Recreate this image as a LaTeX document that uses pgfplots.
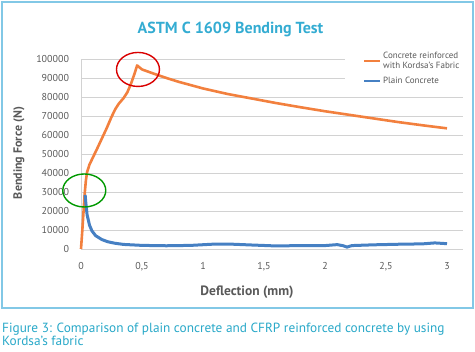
\documentclass[border=0pt]{standalone}
\usepackage{pgfplots}
\pgfplotsset{compat=1.18}
\usepackage{fontspec}
\setmainfont{PT Sans}
\definecolor{ttl}{RGB}{52,172,210}
\definecolor{cap}{RGB}{40,168,200}
\definecolor{frm}{RGB}{130,200,230}
\definecolor{txt}{RGB}{89,89,89}
\definecolor{grd}{RGB}{210,210,210}
\definecolor{orng}{RGB}{242,128,62}
\definecolor{blu}{RGB}{70,128,195}
\begin{document}
\begin{tikzpicture}[x=1pt,y=1pt]
\path (0,0) rectangle (475,-352);
\draw[frm, line width=1.5pt] (2,-2) rectangle (473,-308);
\node[font=\bfseries\fontsize{16}{19}\selectfont, text=ttl] at (230.5,-29) {ASTM C 1609 Bending Test};
\begin{axis}[at={(81pt,-249pt)}, anchor=south west, scale only axis,
  width=382pt, height=190pt, xmin=0, xmax=3.131, ymin=0, ymax=100000,
  clip=false, scaled y ticks=false,
  axis x line*=bottom, axis y line*=left,
  axis line style={grd, line width=0.8pt, -},
  ymajorgrids, grid style={grd, line width=0.8pt},
  major tick length=0pt,
  xtick={0,0.5,1,1.5,2,2.5,3},
  xticklabels={0,{0,5},1,{1,5},2,{2,5},3},
  ytick={0,10000,20000,30000,40000,50000,60000,70000,80000,90000,100000},
  yticklabels={0,10000,20000,30000,40000,50000,60000,70000,80000,90000,100000},
  tick label style={font=\fontsize{10}{12}\selectfont, text=txt},
  yticklabel style={xshift=-8.5pt},
  xticklabel style={yshift=-9.5pt},
  legend style={at={(0.733,1.071)}, anchor=north west, draw=none, fill=white,
    inner xsep=2pt, inner ysep=4pt, row sep=3pt,
    font=\fontsize{9}{10.5}\selectfont, text=txt, cells={align=left, anchor=west}},
  legend image code/.code={\draw[#1, line width=2pt] (0pt,0pt) -- (16pt,0pt);},
]
\fill[white] (rel axis cs:0.691,0.88) rectangle (rel axis cs:1.0,1.02);
\addplot[orng, line width=2.6pt, line join=round] coordinates {
(0,0) (0.01,9000) (0.02,19000) (0.03,29000) (0.04,36000) (0.05,40500)
(0.07,44500) (0.1,48500) (0.13,52500) (0.17,58000) (0.21,63500)
(0.25,69500) (0.28,73500) (0.31,76500) (0.35,79500) (0.38,82500)
(0.41,87000) (0.44,92500) (0.46,96600) (0.5,94500) (0.6,92200)
(0.7,90000) (0.8,88000) (1.0,84500) (1.2,81600) (1.4,79200)
(1.6,76800) (1.8,74600) (2.0,72500) (2.2,70600) (2.4,68700)
(2.6,66800) (2.8,65100) (3.0,63500)};
\addlegendentry{Concrete reinforced\\with Kordsa’s Fabric}
\addplot[blu, line width=3pt, line join=round] coordinates {
(0.034,28500) (0.04,24000) (0.05,18000) (0.07,12500) (0.09,9500)
(0.12,7000) (0.17,5000) (0.22,3800) (0.28,3000) (0.35,2400) (0.5,1900)
(0.7,1700) (0.9,1900) (1.1,2600) (1.25,2500) (1.4,2100) (1.6,1600)
(1.8,1800) (2.0,1800) (2.1,2300) (2.15,1700) (2.18,1000) (2.22,1800)
(2.4,2200) (2.6,2500) (2.8,2700) (2.9,3200) (3.0,2800)};
\addlegendentry{Plain Concrete}
\draw[red!85!black, line width=1.4pt] (axis cs:0.467,94500) ellipse [x radius=21.5pt, y radius=17pt];
\draw[green!60!black, line width=1.4pt] (axis cs:0.027,30800) ellipse [x radius=21.5pt, y radius=16.5pt];
\end{axis}
\node[rotate=90, font=\bfseries\fontsize{12}{14}\selectfont, text=txt] at (19,-153) {Bending Force (N)};
\node[font=\bfseries\fontsize{13.5}{16}\selectfont, text=txt] at (247,-292) {Deflection (mm)};
\node[anchor=base west, inner sep=0pt, font=\fontsize{13.3}{15}\selectfont, text=cap] at (2,-333) {Figure 3: Comparison of plain concrete and CFRP reinforced concrete by using};
\node[anchor=base west, inner sep=0pt, font=\fontsize{13.3}{15}\selectfont, text=cap] at (2,-346) {Kordsa’s fabric};
\end{tikzpicture}
\end{document}
